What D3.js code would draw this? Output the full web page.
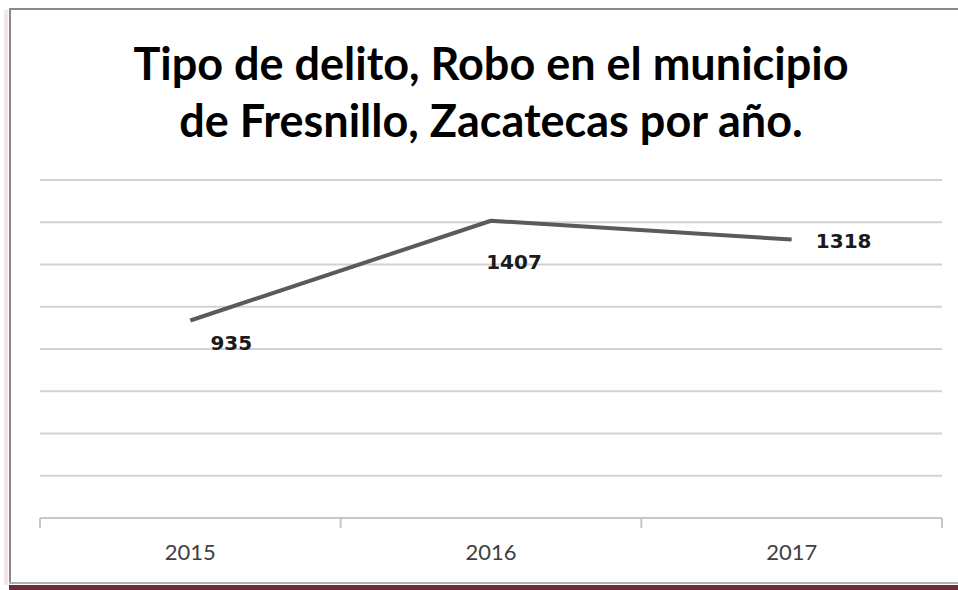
<!DOCTYPE html>
<html>
<head>
<meta charset="utf-8">
<script src="https://cdn.jsdelivr.net/npm/d3@7"></script>
<style>
  html, body { margin: 0; padding: 0; background: #fff; }
  #chart { width: 958px; height: 590px; }
</style>
</head>
<body>
<div id="chart"></div>
<script>
// Data.
const years = ["2015", "2016", "2017"];
const robos = [935, 1407, 1318];
const yTicks = [0, 200, 400, 600, 800, 1000, 1200, 1400, 1600];
const titleLines = ["Tipo de delito, Robo en el municipio", "de Fresnillo, Zacatecas por año."];

const W = 958, H = 590;
const plot = { left: 40, right: 942, top: 180, bottom: 518 };

const svg = d3.select("#chart").append("svg")
    .attr("width", W)
    .attr("height", H)
    .style("display", "block");

// Outer frame, roughly as in the pasted picture.
svg.append("rect").attr("x", 0).attr("y", 0).attr("width", W).attr("height", H).attr("fill", "#fff");
svg.append("rect").attr("x", 4).attr("y", 10).attr("width", 4).attr("height", 575).attr("fill", "#f3e6e8");
svg.append("line").attr("x1", 9).attr("x2", W).attr("y1", 9).attr("y2", 9)
    .attr("stroke", "#8a8a8a").attr("stroke-width", 2);
svg.append("line").attr("x1", 10).attr("x2", 10).attr("y1", 8).attr("y2", 584)
    .attr("stroke", "#8a8a8a").attr("stroke-width", 2);
svg.append("line").attr("x1", 9).attr("x2", W).attr("y1", 583).attr("y2", 583)
    .attr("stroke", "#b0b0b0").attr("stroke-width", 2);
svg.append("rect").attr("x", 9).attr("y", 585).attr("width", W - 9).attr("height", 5).attr("fill", "#6e2b37");

// Title
svg.append("text")
    .attr("x", 491)
    .attr("text-anchor", "middle")
    .attr("font-family", "Lato, 'Open Sans', sans-serif")
    .attr("font-weight", "bold")
    .attr("font-size", 45)
    .attr("fill", "#000")
    .selectAll("tspan")
    .data(titleLines)
    .join("tspan")
    .attr("x", 491)
    .attr("y", (d, i) => 80 + i * 57)
    .text(d => d);

const x = d3.scaleBand().domain(years).range([plot.left, plot.right]);
const y = d3.scaleLinear().domain([0, 1600]).range([plot.bottom, plot.top]);

// Horizontal gridlines
svg.append("g")
    .selectAll("line")
    .data(yTicks.filter(t => t > 0))
    .join("line")
    .attr("x1", plot.left)
    .attr("x2", plot.right)
    .attr("y1", d => y(d))
    .attr("y2", d => y(d))
    .attr("stroke", "#d2d2d2")
    .attr("stroke-width", 2);

// Category axis
const xAxis = svg.append("g")
    .attr("transform", `translate(0,${plot.bottom})`)
    .call(d3.axisBottom(x).tickSize(0).tickPadding(26));
xAxis.select(".domain").remove();
xAxis.selectAll("text")
    .attr("font-family", "Lato, 'Open Sans', sans-serif")
    .attr("font-size", 22)
    .attr("fill", "#404040");

svg.append("line")
    .attr("x1", plot.left).attr("x2", plot.right)
    .attr("y1", plot.bottom).attr("y2", plot.bottom)
    .attr("stroke", "#c8c8c8").attr("stroke-width", 2);

const edges = years.map(yr => x(yr)).concat([plot.right]);
svg.append("g")
    .selectAll("line")
    .data(edges)
    .join("line")
    .attr("x1", d => d).attr("x2", d => d)
    .attr("y1", plot.bottom).attr("y2", plot.bottom + 10)
    .attr("stroke", "#c8c8c8").attr("stroke-width", 2);

// Series line
const pts = years.map((yr, i) => ({ yr, v: robos[i] }));
const line = d3.line()
    .x(d => x(d.yr) + x.bandwidth() / 2)
    .y(d => y(d.v));

svg.append("path")
    .datum(pts)
    .attr("d", line)
    .attr("fill", "none")
    .attr("stroke", "#5a5a5a")
    .attr("stroke-width", 4)
    .attr("stroke-linejoin", "round");

// Data labels (offsets as Excel placed them)
const labelOffsets = [[41, 30], [23, 48], [52, 8]];
svg.append("g")
    .selectAll("text")
    .data(pts)
    .join("text")
    .attr("x", (d, i) => x(d.yr) + x.bandwidth() / 2 + labelOffsets[i][0])
    .attr("y", (d, i) => y(d.v) + labelOffsets[i][1])
    .attr("text-anchor", "middle")
    .attr("font-family", "'DejaVu Sans', sans-serif")
    .attr("font-weight", "bold")
    .attr("font-size", 20)
    .attr("fill", "#1a1a1a")
    .text(d => d.v);
</script>
</body>
</html>
